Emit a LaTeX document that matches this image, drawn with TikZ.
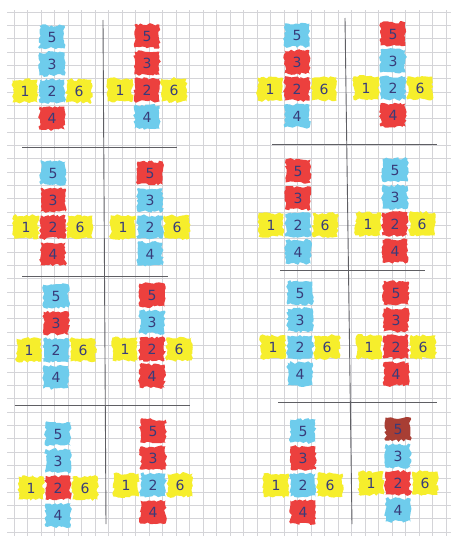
\documentclass[tikz,border=0pt]{standalone}
\usepackage{fontspec}
\setmainfont{DejaVu Sans}
\usetikzlibrary{decorations.pathmorphing}
\definecolor{cblue}{RGB}{110,204,236}
\definecolor{cred}{RGB}{236,64,62}
\definecolor{cyel}{RGB}{246,238,44}
\definecolor{cbrown}{RGB}{168,62,52}
\definecolor{ink}{RGB}{56,60,122}
\definecolor{gridc}{RGB}{212,212,216}
\definecolor{pen}{RGB}{95,95,100}
\tikzset{
  cell/.style={minimum width=25pt, minimum height=23pt, inner sep=0pt,
    decorate, decoration={random steps, segment length=2.6pt, amplitude=1.4pt},
    text=ink, font=\fontsize{14}{14}\selectfont},
  sepline/.style={draw=pen, line width=0.9pt},
  gridline/.style={draw=gridc, line width=0.5pt}
}
\newcommand\dnet[7]{%
  \node[cell,fill=#4] (#1-5) at ({#2},{#3-54}) {5};
  \node[cell,fill=#5] (#1-3) at ({#2},{#3-27}) {3};
  \node[cell,fill=cyel] (#1-1) at ({#2-27},{#3}) {1};
  \node[cell,fill=#6] (#1-2) at ({#2},{#3}) {2};
  \node[cell,fill=cyel] (#1-6) at ({#2+27},{#3}) {6};
  \node[cell,fill=#7] (#1-4) at ({#2},{#3+27}) {4};
}
\begin{document}
\begin{tikzpicture}[x=1pt,y=-1pt]
\pgfmathsetseed{7}
\useasboundingbox (0,0) rectangle (451,536);
\fill[white] (0,0) rectangle (451,536);
% grid paper
\foreach \i in {0,...,32} \draw[gridline] ({14+13.5*\i},10) -- ({14+13.5*\i},536);
\foreach \j in {0,...,39} \draw[gridline] (7,{12+13.33*\j}) -- (451,{12+13.33*\j});
% separator lines
\draw[sepline] (103,20) -- (106,524);
\draw[sepline] (345,18) -- (352,524);
\draw[sepline] (22,147) -- (177,147);
\draw[sepline] (272,144) -- (437,144);
\draw[sepline] (22,276) -- (168,276);
\draw[sepline] (280,270) -- (425,270);
\draw[sepline] (15,405) -- (190,405);
\draw[sepline] (278,402) -- (437,402);
% row 1
\dnet{a1}{52}{91}{cblue}{cblue}{cblue}{cred}
\dnet{b1}{147}{90}{cred}{cred}{cred}{cblue}
\dnet{c1}{297}{89}{cblue}{cred}{cred}{cblue}
\dnet{d1}{393}{88}{cred}{cblue}{cblue}{cred}
% row 2
\dnet{a2}{53}{227}{cblue}{cred}{cred}{cred}
\dnet{b2}{150}{227}{cred}{cblue}{cblue}{cblue}
\dnet{c2}{298}{225}{cred}{cred}{cblue}{cblue}
\dnet{d2}{395}{224}{cblue}{cblue}{cred}{cred}
% row 3
\dnet{a3}{56}{350}{cblue}{cred}{cblue}{cblue}
\dnet{b3}{152}{349}{cred}{cblue}{cred}{cred}
\dnet{c3}{300}{347}{cblue}{cblue}{cblue}{cblue}
\dnet{d3}{396}{347}{cred}{cred}{cred}{cred}
% row 4
\dnet{a4}{58}{488}{cblue}{cblue}{cred}{cblue}
\dnet{b4}{153}{485}{cred}{cred}{cblue}{cred}
\dnet{c4}{303}{485}{cblue}{cred}{cblue}{cred}
\dnet{d4}{398}{483}{cbrown}{cblue}{cred}{cblue}
\end{tikzpicture}
\end{document}
